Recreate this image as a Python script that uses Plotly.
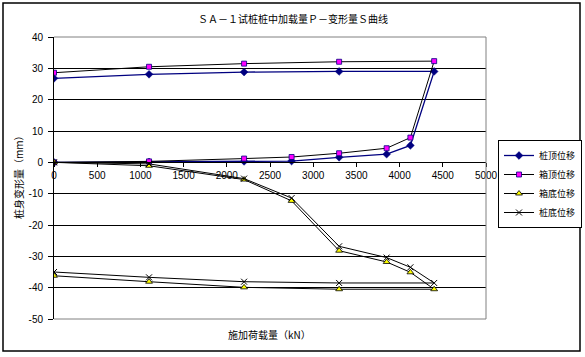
import plotly.graph_objects as go

# ---- data ----
load_kn = [0, 1100, 2200, 2750, 3300, 3850, 4125, 4400, 3300, 2200, 1100, 0]
pile_top = [0, 0.1, 0.3, 0.4, 1.6, 2.6, 5.4, 29.0, 29.0, 28.8, 28.1, 26.8]
box_top = [0, 0.3, 1.2, 1.7, 2.9, 4.5, 7.9, 32.3, 32.1, 31.5, 30.5, 28.6]
box_bottom = [0, -1.1, -5.5, -12.3, -28.2, -31.8, -35.1, -40.5, -40.5, -39.9, -38.1, -36.2]
pile_bottom = [0, -0.5, -5.2, -11.4, -26.8, -30.4, -33.5, -38.5, -38.5, -38.1, -36.7, -35.0]

series_names = ["桩顶位移", "箱顶位移", "箱底位移", "桩底位移"]
x_ticks = [0, 500, 1000, 1500, 2000, 2500, 3000, 3500, 4000, 4500, 5000]
y_ticks = [40, 30, 20, 10, 0, -10, -20, -30, -40, -50]
y_ticktext = ["40", "30", "20", "10", "0", "-10", "-20", "-30", "-40", "-50"]

title_text = "ＳＡ－１试桩桩中加载量Ｐ－变形量Ｓ曲线"
x_title = "施加荷载量（kN）"
y_title = "桩身变形量（mm）"

CJK = "Noto Sans CJK SC"
NUM = "Liberation Sans"

fig = go.Figure()
fig.add_trace(go.Scatter(
    x=load_kn, y=pile_top, name=series_names[0], mode="lines+markers",
    line=dict(color="#000080", width=1.3),
    marker=dict(symbol="diamond", size=6, color="#000080",
                line=dict(color="#000080", width=0.5))))
fig.add_trace(go.Scatter(
    x=load_kn, y=box_top, name=series_names[1], mode="lines+markers",
    line=dict(color="#000000", width=1),
    marker=dict(symbol="square", size=5, color="#FF00FF",
                line=dict(color="#000080", width=0.8))))
fig.add_trace(go.Scatter(
    x=load_kn, y=box_bottom, name=series_names[2], mode="lines+markers",
    line=dict(color="#000000", width=1),
    marker=dict(symbol="triangle-up", size=6, color="#FFFF00",
                line=dict(color="#000000", width=0.8))))
fig.add_trace(go.Scatter(
    x=load_kn, y=pile_bottom, name=series_names[3], mode="lines+markers",
    line=dict(color="#000000", width=1),
    marker=dict(symbol="x-thin", size=6, color="#000000",
                line=dict(color="#000000", width=1))))

L, R, T, B = 54, 99, 37, 38
W, H = 585, 357
pw, ph = W - L - R, H - T - B


def px_x(p):
    return (p - L) / pw


def px_y(p):
    return (H - B - p) / ph


zero_pos = (0 - (-50)) / 90.0

fig.update_layout(
    width=W, height=H,
    margin=dict(l=L, r=R, t=T, b=B, autoexpand=False),
    paper_bgcolor="white", plot_bgcolor="white",
    font=dict(family=NUM, size=10, color="black"),
    showlegend=True,
    legend=dict(x=px_x(498), y=px_y(140), xanchor="left", yanchor="top",
                bordercolor="black", borderwidth=1, bgcolor="white",
                font=dict(family=CJK, size=9), itemwidth=30,
                tracegroupgap=0),
    xaxis=dict(range=[0, 5000], tickvals=x_ticks, showgrid=False,
               zeroline=False, showline=True, linecolor="black", linewidth=1,
               ticks="outside", ticklen=4, tickcolor="black",
               anchor="free", position=zero_pos,
               tickfont=dict(family=NUM, size=10)),
    yaxis=dict(range=[-50, 40], tickvals=y_ticks, ticktext=y_ticktext,
               showgrid=True, gridcolor="black", gridwidth=1,
               zeroline=False, showline=True, linecolor="black", linewidth=1,
               ticks="outside", ticklen=5, tickcolor="black",
               ticklabelstandoff=3,
               tickfont=dict(family=NUM, size=10)),
    shapes=[
        dict(type="line", xref="paper", yref="paper", x0=0, x1=1, y0=1, y1=1,
             line=dict(color="#808080", width=1), layer="above"),
        dict(type="line", xref="paper", yref="paper", x0=1, x1=1, y0=0, y1=1,
             line=dict(color="#808080", width=1), layer="above"),
        dict(type="line", xref="paper", yref="paper", x0=0, x1=1, y0=0, y1=0,
             line=dict(color="#808080", width=1), layer="above"),
        dict(type="rect", xref="paper", yref="paper",
             x0=px_x(3), x1=px_x(580), y0=px_y(351), y1=px_y(3),
             line=dict(color="black", width=1.5), layer="above"),
    ],
    annotations=[
        dict(text=title_text, xref="paper", yref="paper", x=px_x(293),
             y=px_y(18), showarrow=False, xanchor="center", yanchor="middle",
             font=dict(family=CJK, size=10)),
        dict(text=x_title, xref="paper", yref="paper", x=px_x(269),
             y=px_y(334), showarrow=False, xanchor="center", yanchor="middle",
             font=dict(family=CJK, size=10)),
        dict(text=y_title, xref="paper", yref="paper", x=px_x(18),
             y=px_y(175), showarrow=False, xanchor="center", yanchor="middle",
             textangle=-90, font=dict(family=CJK, size=10)),
    ],
)

fig.write_html("out.html",
               config={"displayModeBar": False},
               post_script="document.body.style.margin='0px';"
                           "document.body.style.overflow='hidden';")
